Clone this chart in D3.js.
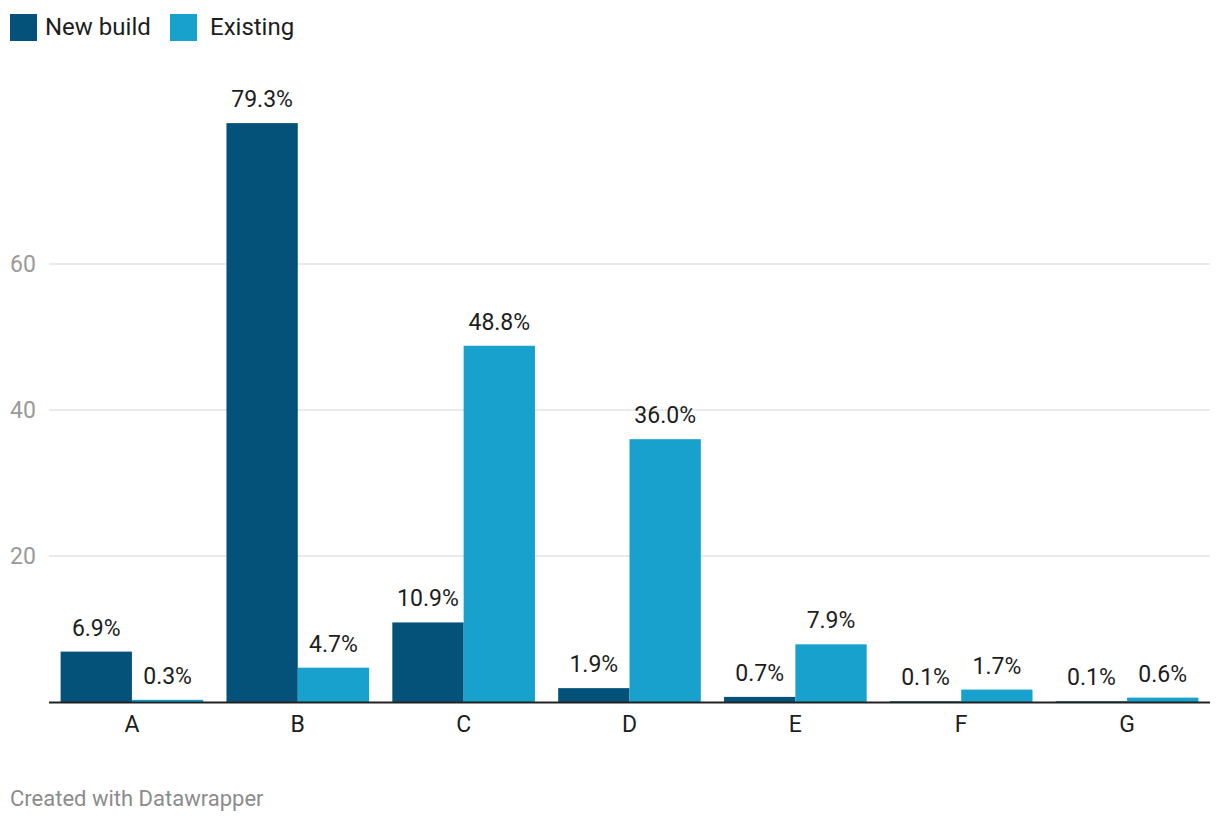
<!DOCTYPE html>
<html><head><meta charset="utf-8">
<script src="https://cdn.jsdelivr.net/npm/d3@7"></script>
<style>body{margin:0;background:#fff;} text{font-family:Roboto,"Noto Sans",sans-serif;}</style>
</head><body>
<svg id="c" width="1220" height="824"></svg>
<script>
const categories = ["A","B","C","D","E","F","G"];
const seriesNames = ["New build","Existing"];
const newBuild = [6.9, 79.3, 10.9, 1.9, 0.7, 0.1, 0.1];
const existing = [0.3, 4.7, 48.8, 36.0, 7.9, 1.7, 0.6];
const yTicks = [20, 40, 60];
const colors = ["#04527a", "#19a1cd"];

const svg = d3.select("#c");
const x = d3.scaleBand().domain(categories).range([49, 1210]).paddingInner(0.14).paddingOuter(0.07);
const xs = d3.scaleBand().domain(seriesNames).range([0, x.bandwidth()]);
const y = d3.scaleLinear().domain([0, 80]).range([702, 118]);

// gridlines
svg.append("g").selectAll("line").data(yTicks).join("line")
  .attr("x1", 49).attr("x2", 1210)
  .attr("y1", d => y(d)).attr("y2", d => y(d))
  .attr("stroke", "#e3e3e3").attr("stroke-width", 1.5);
svg.append("g").selectAll("text").data(yTicks).join("text")
  .attr("x", 10).attr("y", d => y(d)).attr("dy", "0.35em")
  .attr("fill", "#9a9a9a").attr("font-size", 23).text(d => d);

const data = categories.map((c, i) => ({c, vals: [newBuild[i], existing[i]]}));
const g = svg.append("g").selectAll("g").data(data).join("g")
  .attr("transform", d => `translate(${x(d.c)},0)`);
g.selectAll("rect").data(d => d.vals.map((v, j) => ({v, s: seriesNames[j], j}))).join("rect")
  .attr("x", d => xs(d.s)).attr("width", xs.bandwidth())
  .attr("y", d => y(d.v)).attr("height", d => y(0) - y(d.v))
  .attr("fill", d => colors[d.j]);
g.selectAll("text").data(d => d.vals.map((v, j) => ({v, s: seriesNames[j], j}))).join("text")
  .attr("x", d => xs(d.s) + xs.bandwidth() / 2).attr("y", d => y(d.v) - 16)
  .attr("text-anchor", "middle").attr("font-size", 23).attr("fill", "#1d1d1d")
  .text(d => d.v.toFixed(1) + "%");

// baseline axis
svg.append("line").attr("x1", 49).attr("x2", 1210).attr("y1", y(0) + 0.5).attr("y2", y(0) + 0.5)
  .attr("stroke", "#222").attr("stroke-width", 2);
const xAxis = svg.append("g").attr("transform", `translate(0,${y(0)})`)
  .call(d3.axisBottom(x).tickSize(0).tickPadding(14));
xAxis.select(".domain").remove();
xAxis.selectAll("text").attr("font-size", 23).attr("fill", "#1d1d1d").attr("font-family", "Roboto");

// legend
const lg = svg.append("g");
const lx = [10, 170];
const tx = [45, 210];
seriesNames.forEach((s, i) => {
  lg.append("rect").attr("x", lx[i]).attr("y", 14).attr("width", 27).attr("height", 27).attr("fill", colors[i]);
  lg.append("text").attr("x", tx[i]).attr("y", 35).attr("font-size", 24).attr("fill", "#1d1d1d").text(s);
});

svg.append("text").attr("x", 10).attr("y", 806).attr("font-size", 22).attr("fill", "#8c8c8c").text("Created with Datawrapper");
</script>
</body></html>
